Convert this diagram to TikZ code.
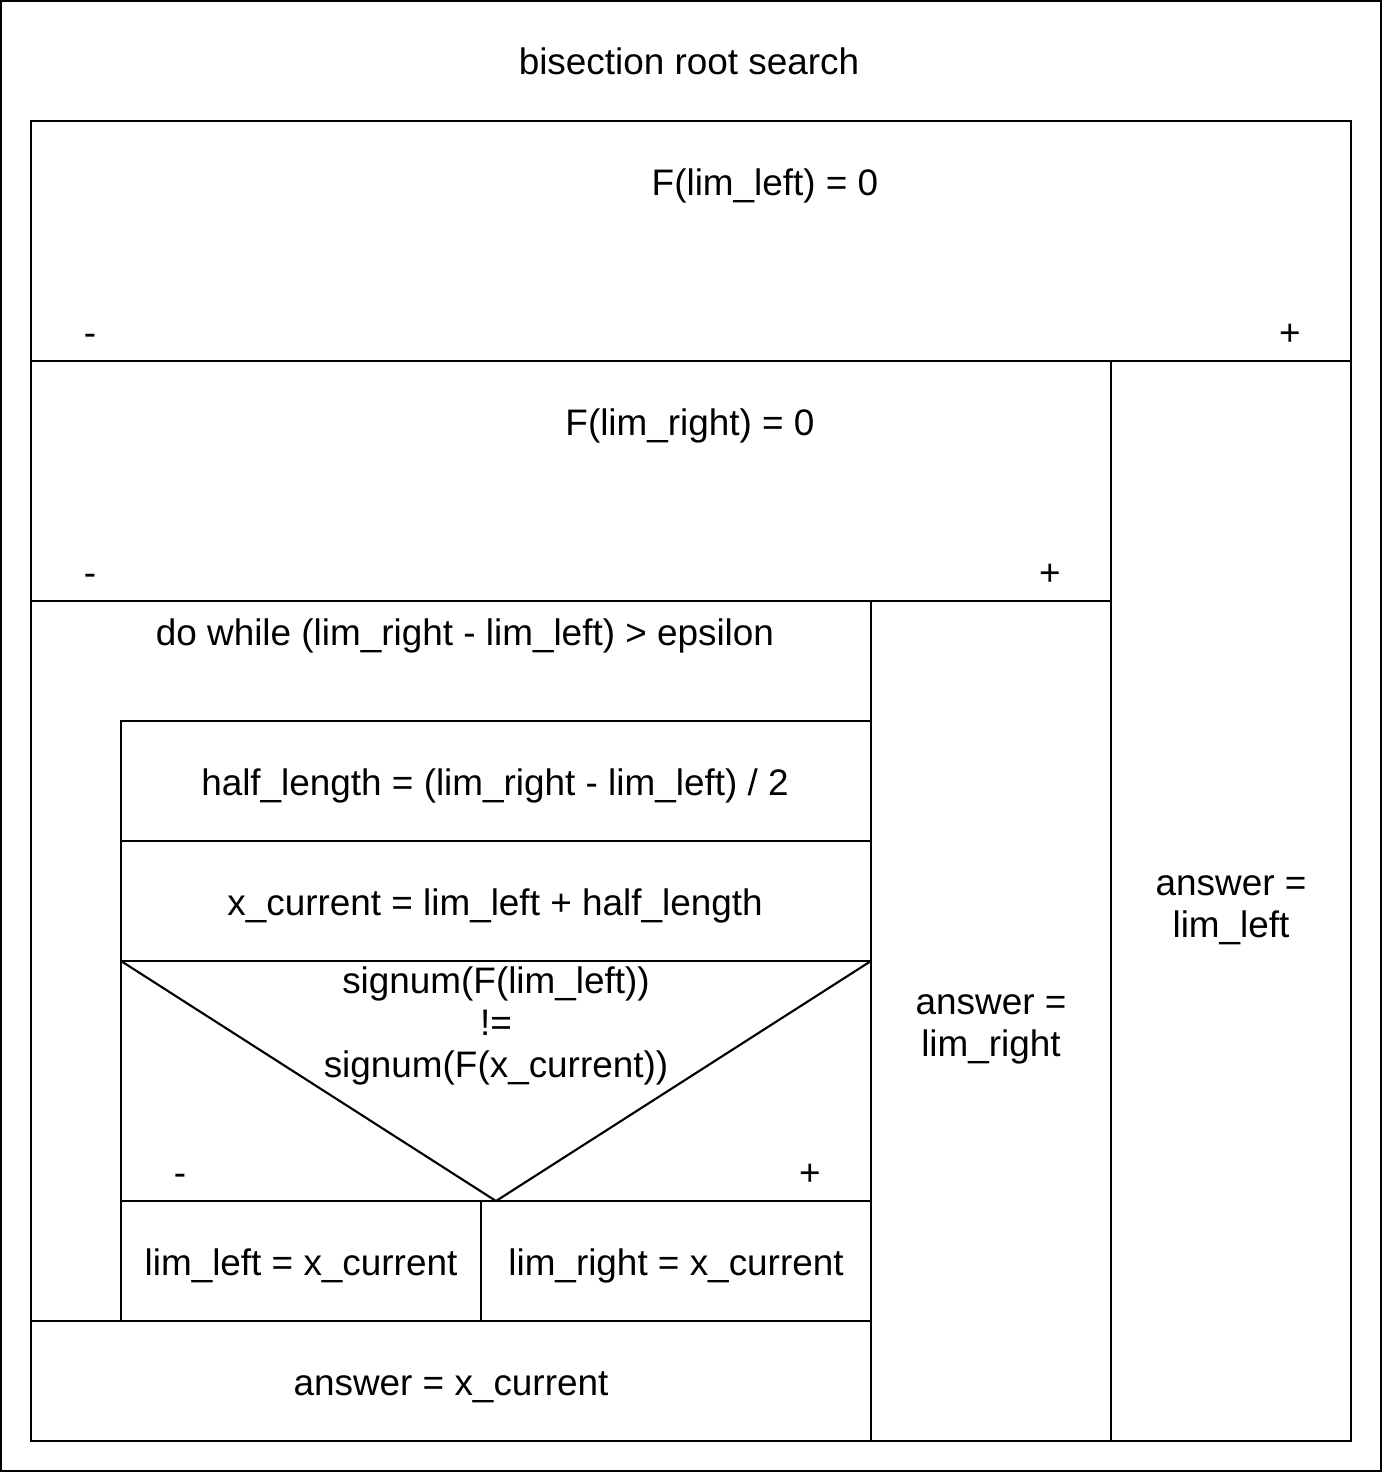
\documentclass[tikz,border=0pt]{standalone}
\usepackage{fontspec}
\setmainfont{Liberation Sans}
\tikzset{
  nsline/.style={line width=1.2pt},
  nstext/.style={inner sep=0pt,font=\fontsize{21}{24}\selectfont,align=center},
  nsone/.style={nstext,text height=0.72em,text depth=0.15em,yshift=-0.14cm},
}
\begin{document}
\begin{tikzpicture}[x=0.02cm,y=-0.02cm]
  \useasboundingbox (0,0) rectangle (1383,1473);
  % frames
  \draw[nsline] (1,1) rectangle (1381,1471);
  \draw[nsline] (31,121) rectangle (1351,1441);
  \draw[nsline] (31,361)--(1351,361);
  \draw[nsline] (1111,361)--(1111,1441);
  \draw[nsline] (31,601)--(1111,601);
  \draw[nsline] (871,601)--(871,1441);
  % loop body
  \draw[nsline] (121,721) rectangle (871,1321);
  \draw[nsline] (121,841)--(871,841);
  \draw[nsline] (121,961)--(871,961);
  \draw[nsline] (121,961)--(496,1201)--(871,961);
  \draw[nsline] (121,1201)--(871,1201);
  \draw[nsline] (481,1201)--(481,1321);
  \draw[nsline] (31,1321)--(121,1321);
  % texts
  \node[nsone] (title) at (689,62) {bisection root search};
  \node[nsone] (ifleft) at (765,183) {F(lim\_left) = 0};
  \node[nsone] (ifleftno) at (90,333) {-};
  \node[nsone] (ifleftyes) at (1290,333) {+};
  \node[nsone] (ifright) at (690,423) {F(lim\_right) = 0};
  \node[nsone] (ifrightno) at (90,573) {-};
  \node[nsone] (ifrightyes) at (1050,573) {+};
  \node[nsone] (loop) at (465,633) {do while (lim\_right - lim\_left) > epsilon};
  \node[nsone] (half) at (495,783) {half\_length = (lim\_right - lim\_left) / 2};
  \node[nsone] (xcur) at (495,903) {x\_current = lim\_left + half\_length};
  \node[nstext] (ifsign) at (496,1026) {signum(F(lim\_left))\\!=\\signum(F(x\_current))};
  \node[nsone] (ifsignno) at (180,1173) {-};
  \node[nsone] (ifsignyes) at (810,1173) {+};
  \node[nsone] (setleft) at (301,1263) {lim\_left = x\_current};
  \node[nsone] (setright) at (676,1263) {lim\_right = x\_current};
  \node[nsone] (ansx) at (451,1383) {answer = x\_current};
  \node[nstext] (ansright) at (991,1029) {answer =\\lim\_right};
  \node[nstext] (ansleft) at (1231,910) {answer =\\lim\_left};
\end{tikzpicture}
\end{document}
